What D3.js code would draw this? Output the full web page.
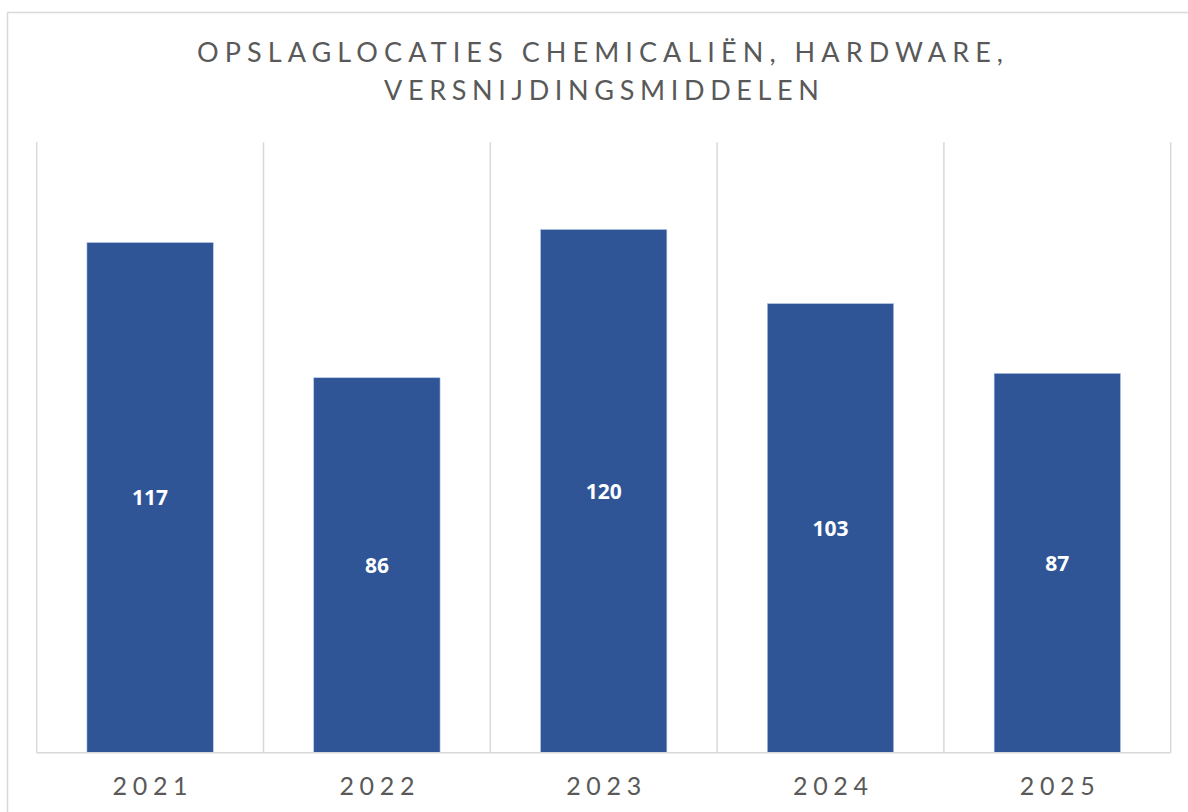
<!DOCTYPE html>
<html>
<head>
<meta charset="utf-8">
<script src="https://cdn.jsdelivr.net/npm/d3@7"></script>
<style>
  body { margin: 0; background: #fff; }
</style>
</head>
<body>
<script>
// chart data
const years = ["2021", "2022", "2023", "2024", "2025"];
const counts = [117, 86, 120, 103, 87];
const titleLines = ["OPSLAGLOCATIES CHEMICALIËN, HARDWARE,", "VERSNIJDINGSMIDDELEN"];
const yMax = 140;

const w = 1188;
const h = 812;
const plot = { left: 36.7, right: 1170.7, top: 142.3, bottom: 752.7 };

let svg = d3.select("body")
  .append("svg")
  .attr("width", w)
  .attr("height", h);

// outer frame (cut off on the right and bottom)
svg.append("rect")
  .attr("x", 7.5)
  .attr("y", 12.5)
  .attr("width", w)
  .attr("height", h)
  .attr("fill", "#fff")
  .attr("stroke", "#d9d9d9")
  .attr("stroke-width", 1.5);

// scales
let xScale = d3.scaleBand()
  .domain(years)
  .range([plot.left, plot.right])
  .paddingInner(0.443)
  .paddingOuter(0.2215);
let yScale = d3.scaleLinear()
  .domain([0, yMax])
  .range([plot.bottom, plot.top]);

const step = xScale.step();

// vertical gridlines between categories
const edges = years.map(function(d) { return xScale(d) - xScale.paddingOuter() * step; });
edges.push(plot.right);
svg.selectAll(".grid")
  .data(edges)
  .enter()
  .append("line")
  .attr("class", "grid")
  .attr("x1", function(d) { return d; })
  .attr("x2", function(d) { return d; })
  .attr("y1", yScale(yMax))
  .attr("y2", yScale(0))
  .attr("stroke", "#d9d9d9")
  .attr("stroke-width", 1.5);

// bars
svg.selectAll(".bar")
  .data(counts)
  .enter()
  .append("rect")
  .attr("class", "bar")
  .attr("x", function(d, i) { return xScale(years[i]); })
  .attr("y", function(d) { return yScale(d); })
  .attr("width", xScale.bandwidth())
  .attr("height", function(d) { return yScale(0) - yScale(d); })
  .attr("fill", "#2f5597")
  .attr("stroke", "#b4c7e7")
  .attr("stroke-width", 0.6);

// baseline
svg.append("line")
  .attr("x1", plot.left)
  .attr("x2", plot.right)
  .attr("y1", yScale(0))
  .attr("y2", yScale(0))
  .attr("stroke", "#d9d9d9")
  .attr("stroke-width", 1.5);

// value labels in the middle of the bars
svg.selectAll(".label")
  .data(counts)
  .enter()
  .append("text")
  .attr("class", "label")
  .attr("x", function(d, i) { return xScale(years[i]) + xScale.bandwidth() / 2; })
  .attr("y", function(d) { return (yScale(d) + yScale(0)) / 2; })
  .attr("dy", "0.36em")
  .attr("text-anchor", "middle")
  .style("font-family", "'Open Sans', sans-serif")
  .style("font-weight", "bold")
  .style("font-size", "21px")
  .attr("fill", "#fff")
  .text(function(d) { return d; });

// spreads the letters of a text so that it fills a given width
function spread(sel, cx, target) {
  sel.style("letter-spacing", "0px").attr("x", cx);
  const w0 = sel.node().getComputedTextLength();
  const n = sel.text().length;
  const ls = (target - w0) / (n - 1);
  sel.style("letter-spacing", ls + "px").attr("x", cx + ls / 2);
}

// x axis labels
const axisLabels = svg.selectAll(".tick-label")
  .data(years)
  .enter()
  .append("text")
  .attr("class", "tick-label")
  .attr("y", 795)
  .attr("text-anchor", "middle")
  .style("font-family", "Lato, sans-serif")
  .style("font-size", "25px")
  .attr("fill", "#595959")
  .text(function(d) { return d; });
axisLabels.each(function(d) {
  spread(d3.select(this), xScale(d) + xScale.bandwidth() / 2, 75);
});

// title
const titleWidths = [806, 435];
const titleCenters = [600, 601.5];
titleLines.forEach(function(line, i) {
  const t = svg.append("text")
    .attr("y", 61.5 + i * 38)
    .attr("text-anchor", "middle")
    .style("font-family", "Lato, sans-serif")
    .style("font-size", "27px")
    .attr("fill", "#595959")
    .text(line);
  spread(t, titleCenters[i], titleWidths[i]);
});
</script>
</body>
</html>
